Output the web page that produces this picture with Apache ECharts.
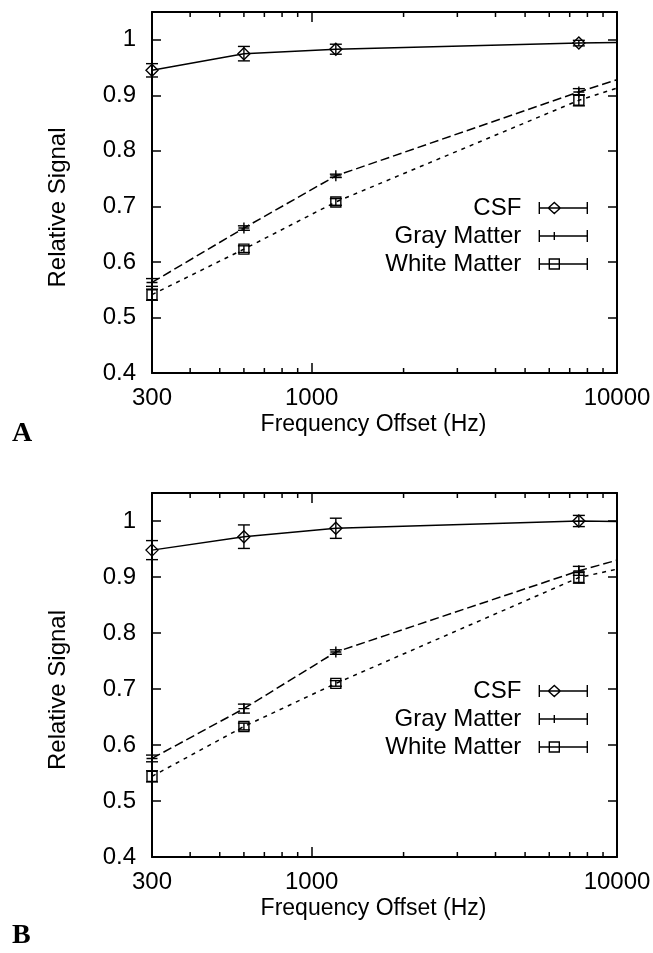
<!DOCTYPE html>
<html><head><meta charset="utf-8">
<script src="https://cdn.jsdelivr.net/npm/echarts@6/dist/echarts.min.js"></script>
<style>html,body{margin:0;padding:0;background:#fff}#c{width:653px;height:953px}</style>
</head><body><div id="c"></div>
<script>
// ---------- data ----------
const freqs = [300, 600, 1200, 7500];          // Hz, measured points
const edgeFreq = 10000;                         // where the curves leave the frame
const xTickLabels = [300, 1000, 10000];
const xMinorTicks = [400, 500, 600, 700, 800, 900, 2000, 3000, 4000, 5000, 6000, 7000, 8000, 9000];
const seriesNames = ['CSF', 'Gray Matter', 'White Matter'];

// Panel A
const csfA = [0.945, 0.975, 0.983, 0.994];
const csfAErr = [0.012, 0.013, 0.009, 0.005];
const csfAEdge = 0.995;
const gmA = [0.563, 0.661, 0.755, 0.906];
const gmAErr = [0.007, 0.004, 0.003, 0.006];
const gmAEdge = 0.928;
const wmA = [0.541, 0.623, 0.708, 0.891];
const wmAErr = [0.010, 0.006, 0.006, 0.010];
const wmAEdge = 0.913;

// Panel B
const csfB = [0.948, 0.972, 0.987, 1.000];
const csfBErr = [0.017, 0.021, 0.018, 0.010];
const csfBEdge = 0.999;
const gmB = [0.576, 0.665, 0.766, 0.911];
const gmBErr = [0.006, 0.008, 0.004, 0.008];
const gmBEdge = 0.930;
const wmB = [0.544, 0.633, 0.710, 0.899];
const wmBErr = [0.010, 0.006, 0.005, 0.010];
const wmBEdge = 0.914;

// ---------- styling ----------
const FONT = '"Liberation Sans", Arial, Helvetica, sans-serif';
const Y_MIN = 0.4, Y_MAX = 1.05, X_MIN = 300, X_MAX = 10000;
const BLACK = '#000';

const symbols = ['diamond', 'path://M5,0L5,10M0,5L10,5', 'rect'];
const symbolSizes = [12, 11, 10];
const lineTypes = ['solid', [9, 4], [4, 5]];
const legendIcons = [
  'path://M0,0L0,12M0,6L48,6M48,0L48,12M9,6L15,0.5L21,6L15,11.5Z',
  'path://M0,0L0,12M0,6L48,6M48,0L48,12M15,2L15,10',
  'path://M0,0L0,12M0,6L48,6M48,0L48,12M10,1L20,1L20,11L10,11Z'
];

const grids = [
  { left: 152, right: 36, top: 12, height: 361 },
  { left: 152, right: 36, top: 493, height: 364 }
];

function xAxes(gi) {
  const common = {
    type: 'log', logBase: 10, min: X_MIN, max: X_MAX, gridIndex: gi,
    axisLine: { show: true, lineStyle: { color: BLACK, width: 2 } },
    axisTick: { show: true, inside: true, length: 10, lineStyle: { color: BLACK, width: 1.5 } },
    splitLine: { show: false }, minorTick: { show: false }
  };
  return [
    Object.assign({}, common, {
      position: 'bottom',
      axisLabel: {
        show: true, margin: 13, color: BLACK, fontFamily: FONT, fontSize: 24,
        showMinLabel: true, showMaxLabel: true,
        formatter: v => { const r = Math.round(v); return xTickLabels.indexOf(r) >= 0 ? String(r) : ''; }
      },
      name: 'Frequency Offset (Hz)', nameLocation: 'middle', nameGap: 40,
      nameTextStyle: { color: BLACK, fontFamily: FONT, fontSize: 23, padding: [0, 22, 0, 0] }
    }),
    Object.assign({}, common, { position: 'top', axisLabel: { show: false } })
  ];
}
function yAxes(gi) {
  const common = {
    type: 'value', min: Y_MIN, max: Y_MAX, interval: 0.1, gridIndex: gi,
    axisLine: { show: true, lineStyle: { color: BLACK, width: 2 } },
    axisTick: { show: true, inside: true, length: 9, lineStyle: { color: BLACK, width: 1.5 } },
    splitLine: { show: false }
  };
  return [
    Object.assign({}, common, {
      position: 'left',
      axisLabel: {
        show: true, margin: 16, color: BLACK, fontFamily: FONT, fontSize: 24, showMaxLabel: false,
        formatter: v => v > 1.001 ? '' : String(+v.toFixed(1))
      },
      name: 'Relative Signal', nameLocation: 'middle', nameGap: 82, nameRotate: 90,
      nameTextStyle: { color: BLACK, fontFamily: FONT, fontSize: 24, padding: [0, 30, 0, 0] }
    }),
    Object.assign({}, common, { position: 'right', axisLabel: { show: false } })
  ];
}

function lineSeries(name, idx, vals, edge, gi) {
  const data = freqs.map((f, i) => [f, vals[i]]);
  data.push({ value: [edgeFreq, edge], symbol: 'none' });
  return {
    type: 'line', name: name, xAxisIndex: gi * 2, yAxisIndex: gi * 2,
    data: data, symbol: symbols[idx], symbolSize: symbolSizes[idx], showAllSymbol: true,
    lineStyle: { color: BLACK, width: 1.5, type: lineTypes[idx] },
    itemStyle: { color: 'rgba(0,0,0,0)', borderColor: BLACK, borderWidth: 1.4 },
    emphasis: { disabled: true }, z: 3, silent: true
  };
}
function errSeries(name, vals, errs, gi) {
  return {
    type: 'custom', name: name, xAxisIndex: gi * 2, yAxisIndex: gi * 2, silent: true, z: 4,
    data: freqs.map((f, i) => [f, vals[i] - errs[i], vals[i] + errs[i]]),
    encode: { x: 0, y: [1, 2] },
    renderItem: (params, api) => {
      const p1 = api.coord([api.value(0), api.value(1)]);
      const p2 = api.coord([api.value(0), api.value(2)]);
      const w = 6, st = { stroke: BLACK, lineWidth: 1.4 };
      return { type: 'group', children: [
        { type: 'line', shape: { x1: p1[0], y1: p1[1], x2: p2[0], y2: p2[1] }, style: st },
        { type: 'line', shape: { x1: p1[0] - w, y1: p1[1], x2: p1[0] + w, y2: p1[1] }, style: st },
        { type: 'line', shape: { x1: p2[0] - w, y1: p2[1], x2: p2[0] + w, y2: p2[1] }, style: st }
      ]};
    }
  };
}
function minorTickSeries(gi) {
  return {
    type: 'custom', xAxisIndex: gi * 2, yAxisIndex: gi * 2, silent: true, z: 5,
    data: xMinorTicks.map(v => [v, Y_MIN]),
    encode: { x: 0, y: 1 },
    renderItem: (params, api) => {
      const b = api.coord([api.value(0), Y_MIN]);
      const t = api.coord([api.value(0), Y_MAX]);
      const L = 5, st = { stroke: BLACK, lineWidth: 1.5 };
      return { type: 'group', children: [
        { type: 'line', shape: { x1: b[0], y1: b[1], x2: b[0], y2: b[1] - L }, style: st },
        { type: 'line', shape: { x1: t[0], y1: t[1], x2: t[0], y2: t[1] + L }, style: st }
      ]};
    }
  };
}
function legendFor(top) {
  return {
    selectedMode: false, orient: 'vertical', align: 'right', right: 65, top: top, padding: 0,
    itemWidth: 48, itemHeight: 12, itemGap: 4,
    textStyle: { fontFamily: FONT, fontSize: 24, color: BLACK, lineHeight: 24, padding: [0, 13, 0, 0] },
    itemStyle: { color: 'rgba(0,0,0,0)', borderColor: BLACK, borderWidth: 1.4 },
    data: seriesNames.map((n, i) => ({ name: n, icon: legendIcons[i] }))
  };
}

const panels = [
  { vals: [csfA, gmA, wmA], errs: [csfAErr, gmAErr, wmAErr], edges: [csfAEdge, gmAEdge, wmAEdge] },
  { vals: [csfB, gmB, wmB], errs: [csfBErr, gmBErr, wmBErr], edges: [csfBEdge, gmBEdge, wmBEdge] }
];
const series = [];
panels.forEach((p, gi) => {
  seriesNames.forEach((n, k) => {
    series.push(lineSeries(n, k, p.vals[k], p.edges[k], gi));
    series.push(errSeries(n, p.vals[k], p.errs[k], gi));
  });
  series.push(minorTickSeries(gi));
});

const option = {
  animation: false,
  backgroundColor: '#fff',
  grid: grids.map(g => Object.assign({ containLabel: false, outerBoundsMode: 'none' }, g)),
  xAxis: xAxes(0).concat(xAxes(1)),
  yAxis: yAxes(0).concat(yAxes(1)),
  legend: [legendFor(196), legendFor(679)],
  graphic: [
    { type: 'text', left: 12, top: 420, style: { text: 'A', font: 'bold 28px "Liberation Serif", serif', fill: BLACK } },
    { type: 'text', left: 12, top: 922, style: { text: 'B', font: 'bold 28px "Liberation Serif", serif', fill: BLACK } }
  ],
  series: series
};
const chart = echarts.init(document.getElementById('c'), null, { renderer: 'canvas' });
chart.setOption(option);
</script>
</body></html>
